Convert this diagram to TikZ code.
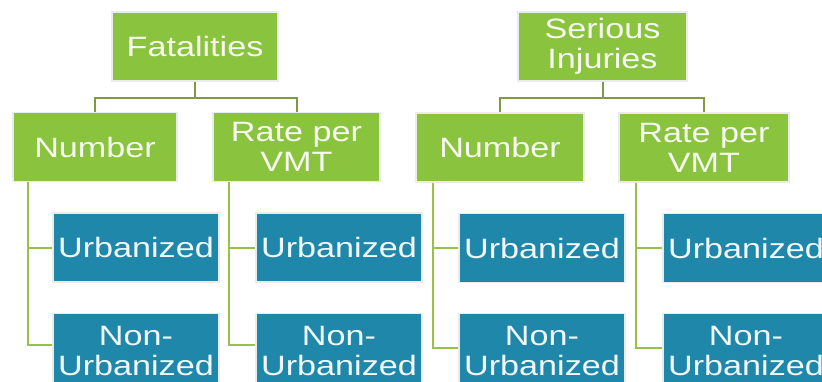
\documentclass[tikz,border=0pt]{standalone}
\usepackage{fontspec}
\newfontfamily\boxfont{Liberation Sans}[FakeStretch=1.22]
\definecolor{leafgreen}{HTML}{8AC43F}
\definecolor{tealblue}{HTML}{1F87AA}
\definecolor{olivelink}{HTML}{7E9A44}
\definecolor{limelink}{HTML}{97C24A}
\tikzset{
  greenbox/.style={fill=leafgreen,draw=black!8,line width=1.2pt,text=white!92!leafgreen,
    minimum height=69pt,inner sep=0pt,align=center,font=\boxfont\fontsize{28}{30}\selectfont},
  bluebox/.style={greenbox,fill=tealblue,text=white!94!tealblue,minimum width=166pt},
  toplink/.style={draw=olivelink,line width=2pt},
  sublink/.style={draw=limelink,line width=2pt}
}
\begin{document}
\begin{tikzpicture}[x=1pt,y=-1pt]
\useasboundingbox (0,0) rectangle (822,381);
\node[greenbox,minimum width=166pt] (fat) at (195,46.5) {Fatalities};
\node[greenbox,minimum width=164pt] (num1) at (95,147) {Number};
\node[greenbox,minimum width=167pt] (rate1) at (296.5,147) {Rate per\\VMT};
\node[bluebox] (urb1) at (136,247.5) {Urbanized};
\node[bluebox,minimum height=75pt] (non1) at (136,351) {Non-\\Urbanized};
\node[bluebox] (urb2) at (339,247.5) {Urbanized};
\node[bluebox,minimum height=75pt] (non2) at (339,351) {Non-\\Urbanized};
\node[greenbox,minimum width=169pt] (ser) at (602.5,46.5) {Serious\\Injuries};
\node[greenbox,minimum width=168pt] (num2) at (500,147.5) {Number};
\node[greenbox,minimum width=170pt] (rate2) at (704,147.5) {Rate per\\VMT};
\node[bluebox] (urb3) at (542,248) {Urbanized};
\node[bluebox,minimum height=75pt] (non3) at (542,351) {Non-\\Urbanized};
\node[bluebox] (urb4) at (746,248) {Urbanized};
\node[bluebox,minimum height=75pt] (non4) at (746,351) {Non-\\Urbanized};
\draw[toplink] (fat.south) -- ++(0,16) -| (num1.north);
\draw[toplink] (fat.south) -- ++(0,16) -| (rate1.north);
\draw[toplink] (ser.south) -- ++(0,16) -| (num2.north);
\draw[toplink] (ser.south) -- ++(0,16) -| (rate2.north);
\draw[sublink] ([xshift=16pt]num1.south west) |- (urb1.west);
\draw[sublink] ([xshift=16pt]num1.south west) |- ([yshift=6pt]non1.west);
\draw[sublink] ([xshift=17pt]rate1.south west) |- (urb2.west);
\draw[sublink] ([xshift=17pt]rate1.south west) |- ([yshift=6pt]non2.west);
\draw[sublink] ([xshift=18pt]num2.south west) |- (urb3.west);
\draw[sublink] ([xshift=18pt]num2.south west) |- ([yshift=3pt]non3.west);
\draw[sublink] ([xshift=18pt]rate2.south west) |- (urb4.west);
\draw[sublink] ([xshift=18pt]rate2.south west) |- ([yshift=3pt]non4.west);
\end{tikzpicture}
\end{document}
